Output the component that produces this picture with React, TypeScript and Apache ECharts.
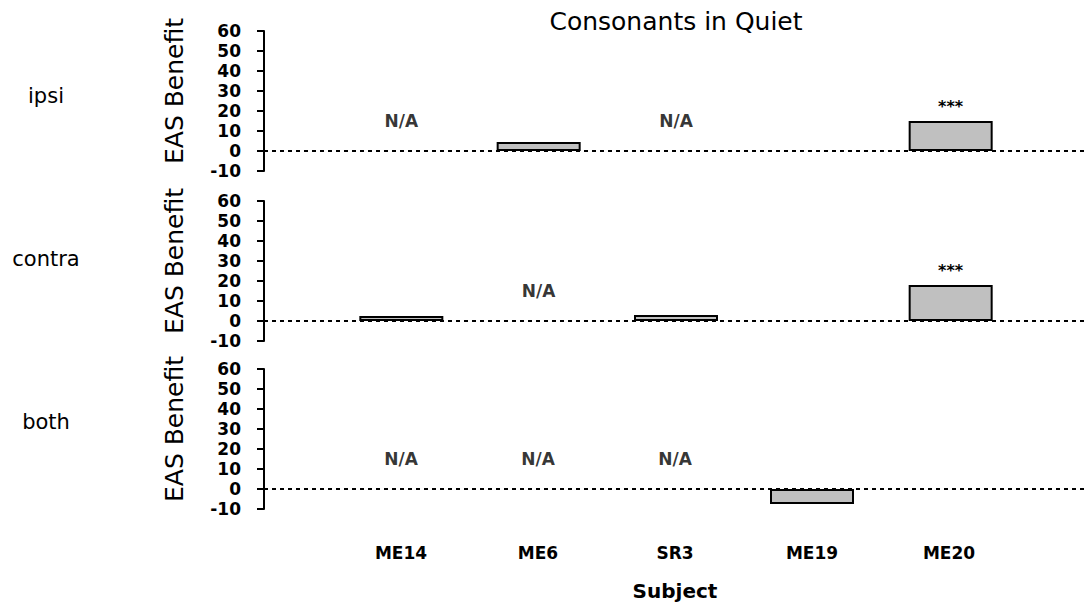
import React, { useEffect, useRef } from "react";
import * as echarts from "echarts";

const subjects = ["ME14", "ME6", "SR3", "ME19", "ME20"];
const rows = ["ipsi", "contra", "both"];
// EAS benefit values (null = no bar)
const ipsiValues: (number | null)[] = [null, 4.5, null, null, 15];
const contraValues: (number | null)[] = [2.5, null, 3, null, 18];
const bothValues: (number | null)[] = [null, null, null, -7.5, null];
// N/A markers
const ipsiNA = [true, false, true, false, false];
const contraNA = [false, true, false, false, false];
const bothNA = [true, true, true, false, false];
// significance labels
const ipsiSig = ["", "", "", "", "***"];
const contraSig = ["", "", "", "", "***"];
const bothSig = ["", "", "", "", ""];
const NA_Y = 15;
const yTicks = { min: -10, max: 60, interval: 10 };

const FONT = "DejaVu Sans";

export default function App() {
  const ref = useRef<HTMLDivElement>(null);
  useEffect(() => {
    if (!ref.current) return;
    const chart = echarts.init(ref.current, null, { renderer: "svg" });
    const values = [ipsiValues, contraValues, bothValues];
    const nas = [ipsiNA, contraNA, bothNA];
    const sigs = [ipsiSig, contraSig, bothSig];
    const tops = [31, 201, 369];
    const grids = tops.map((t) => ({ left: 264, right: 1, top: t, height: 140 }));
    const xAxes = tops.map((_, i) => ({
      type: "value",
      gridIndex: i,
      min: 0,
      max: subjects.length + 1,
      interval: 1,
      axisLine: { show: false },
      axisTick: { show: false },
      splitLine: { show: false },
      axisLabel: {
        show: i === 2,
        margin: 35,
        color: "#000",
        fontFamily: FONT,
        fontWeight: "bold",
        fontSize: 17,
        formatter: (v: number) => subjects[v - 1] ?? "",
      },
    }));
    const yAxes = tops.map((_, i) => ({
      type: "value",
      gridIndex: i,
      min: yTicks.min,
      max: yTicks.max,
      interval: yTicks.interval,
      axisLine: { show: true, lineStyle: { color: "#000", width: 2 } },
      axisTick: { show: true, length: 7, lineStyle: { color: "#000", width: 2 } },
      splitLine: { show: false },
      axisLabel: {
        color: "#000",
        fontFamily: FONT,
        fontWeight: "bold",
        fontSize: 17,
        margin: 23,
      },
    }));
    const series: any[] = [];
    values.forEach((vals, i) => {
      series.push({
        type: "bar",
        xAxisIndex: i,
        yAxisIndex: i,
        barWidth: 84,
        data: vals.map((v, k) => [k + 1, v]),
        itemStyle: { color: "#c0c0c0", borderColor: "#000", borderWidth: 2 },
        label: {
          show: true,
          position: "top",
          distance: 7,
          color: "#000",
          fontFamily: FONT,
          fontWeight: "bold",
          fontSize: 16,
          formatter: (p: any) => sigs[i][p.dataIndex] || "",
        },
        markLine: {
          silent: true,
          symbol: "none",
          label: { show: false },
          lineStyle: { color: "#000", width: 2, type: [4, 4] },
          data: [{ yAxis: 0 }],
        },
        z: 3,
      });
      series.push({
        type: "scatter",
        xAxisIndex: i,
        yAxisIndex: i,
        symbolSize: 1,
        itemStyle: { color: "rgba(0,0,0,0)" },
        data: nas[i]
          .map((na, k) => (na ? [k + 1, NA_Y] : null))
          .filter((d) => d !== null),
        label: {
          show: true,
          position: "inside",
          formatter: "N/A",
          color: "#000",
          textBorderWidth: 0,
          fontFamily: FONT,
          fontWeight: "bold",
          fontSize: 17,
        },
      });
    });
    const graphic: any[] = [
      {
        type: "text",
        x: 676,
        y: 21,
        style: {
          text: "Consonants in Quiet",
          fontFamily: FONT,
          fontSize: 25,
          fill: "#000",
          align: "center",
          verticalAlign: "middle",
        },
      },
      {
        type: "text",
        x: 675,
        y: 591,
        style: {
          text: "Subject",
          fontFamily: FONT,
          fontSize: 20,
          fontWeight: "bold",
          fill: "#000",
          align: "center",
          verticalAlign: "middle",
        },
      },
    ];
    const rowY = [96, 259, 422];
    rows.forEach((r, i) => {
      graphic.push({
        type: "text",
        x: 46,
        y: rowY[i],
        style: {
          text: r,
          fontFamily: FONT,
          fontSize: 21,
          fill: "#000",
          align: "center",
          verticalAlign: "middle",
        },
      });
      graphic.push({
        type: "text",
        x: 174,
        y: tops[i] + 60,
        rotation: Math.PI / 2,
        style: {
          text: "EAS Benefit",
          fontFamily: FONT,
          fontSize: 25,
          fill: "#000",
          align: "center",
          verticalAlign: "middle",
        },
      });
    });
    chart.setOption({
      animation: false,
      backgroundColor: "#fff",
      grid: grids,
      xAxis: xAxes,
      yAxis: yAxes,
      series,
      graphic,
    });
    return () => chart.dispose();
  }, []);
  return (
    <div
      ref={ref}
      style={{ position: "fixed", left: 0, top: 0, width: 1089, height: 604 }}
    />
  );
}
